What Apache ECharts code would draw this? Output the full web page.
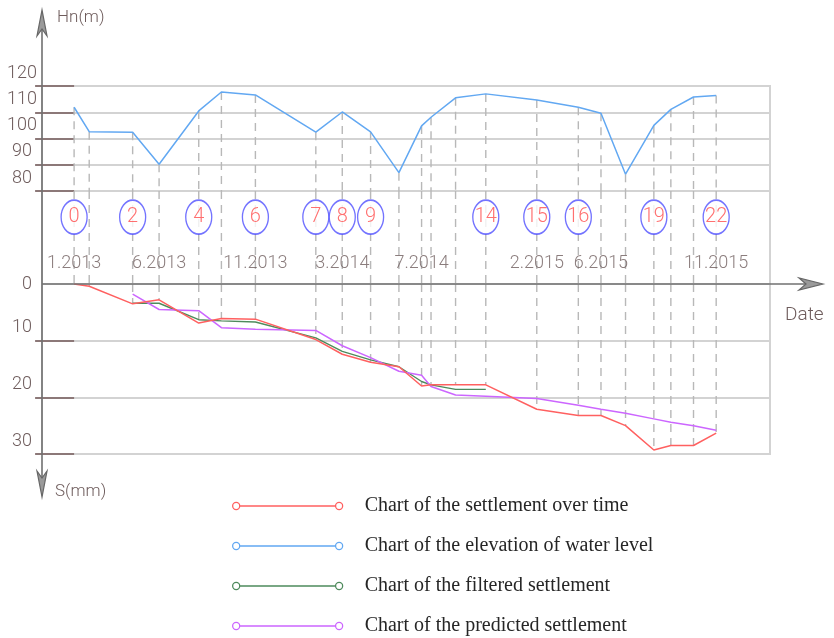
<!DOCTYPE html>
<html>
<head>
<meta charset="utf-8">
<script src="https://cdn.jsdelivr.net/npm/echarts@6/dist/echarts.min.js"></script>
<style>
  html, body { margin: 0; background: #fff; }
  #chart { width: 834px; height: 638px; }
</style>
</head>
<body>
<div id="chart"></div>
<script>
const measureMonth = [0, 0.8, 3.1, 4.5, 6.6, 7.8, 9.6, 12.8, 14.2, 15.7, 17.2, 18.4,
  18.9, 20.2, 21.8, 24.5, 26.7, 27.9, 29.2, 30.7, 31.6, 32.8, 34.0];
// Hn (m)
const waterLevel = [111.9, 102.6, 102.4, 90.2, 110.5, 117.7, 116.6, 102.4, 110.1, 102.5, 87.0, 104.8,
  108.1, 115.5, 117.0, 114.7, 111.9, 109.6, 86.4, 105.0, 111.1, 115.8, 116.4];
// S (mm)
const settlement = [0, 0.4, 3.5, 2.8, 6.9, 6.1, 6.2, 9.8, 12.4, 13.8, 14.6, 18.0,
  17.8, 17.8, 17.8, 22.1, 23.2, 23.2, 25.0, 29.3, 28.5, 28.5, 26.3];
const filteredSettlement = [null, null, 3.4, 3.4, 6.3, 6.5, 6.7, 9.5, 11.9, 13.4, 14.6, 17.2,
  17.8, 18.6, 18.6, null, null, null, null, null, null, null, null];
const predictedSettlement = [null, null, 1.8, 4.5, 4.7, 7.7, 8.0, 8.2, 10.9, 13.0, 15.4, 16.1,
  18.1, 19.6, 19.8, 20.2, 21.4, 22.1, 22.8, 23.8, 24.4, 25.0, 25.8];

const circledPoints = [0, 2, 4, 6, 7, 8, 9, 14, 15, 16, 19, 22];
const dateLabelPoints = [0, 3, 6, 8, 11, 15, 17, 22];
const dateLabels = ['1.2013', '6.2013', '11.2013', '3.2014', '7.2014', '2.2015', '6.2015', '11.2015'];
const levelTicks = [80, 90, 100, 110, 120];
const settlementTicks = [0, 10, 20, 30];

const seriesNames = [
  'Chart of the settlement over time',
  'Chart of the elevation of water level',
  'Chart of the filtered settlement',
  'Chart of the predicted settlement'
];
const seriesColors = ['#ff6060', '#62a8f2', '#4e8a5c', '#cc66ff'];

// layout
const AXIS_X = 42;
const X_MIN = -1.7, X_MAX = 36.85;
const CIRCLE_ROW = 0.72, DATE_ROW = 0.22;
const CAD_FONT = "Roboto, 'Liberation Sans', sans-serif";
const TEXT_GREY = '#6e5c5c';
const GRID_GREY = '#d3d3d3';
const AXIS_GREY = '#707070';

const pts = ys => measureMonth.map((x, i) => [x, ys[i]]).filter(p => p[1] != null);

const dash = { stroke: '#b8b8b8', lineWidth: 1.4, lineDash: [8, 6] };

const xAxisBase = { type: 'value', min: X_MIN, max: X_MAX, show: false };
const yLabel = {
  fontFamily: CAD_FONT, fontSize: 18, fontWeight: 300, color: TEXT_GREY, align: 'center', margin: 20,
  formatter: v => v === 0 ? '{z|0}' : '{n|' + v + '}',
  rich: { n: { padding: [0, 0, 26, 0] }, z: { padding: [0, 0, 0, 10] } }
};
const yTick = { show: true, length: 39, lineStyle: { color: '#8c7878', width: 2 } };

const chart = echarts.init(document.getElementById('chart'));
chart.setOption({
  backgroundColor: '#fff',
  animation: false,
  grid: [
    { left: AXIS_X, width: 728, top: 86, height: 105, show: true, borderColor: GRID_GREY, borderWidth: 2 },
    { left: AXIS_X, width: 728, top: 191, height: 93, show: true, borderColor: GRID_GREY, borderWidth: 2 },
    { left: AXIS_X, width: 728, top: 284, height: 170, show: true, borderColor: GRID_GREY, borderWidth: 2 }
  ],
  xAxis: [
    Object.assign({ gridIndex: 0 }, xAxisBase),
    Object.assign({ gridIndex: 1 }, xAxisBase),
    Object.assign({ gridIndex: 2 }, xAxisBase)
  ],
  yAxis: [
    {
      gridIndex: 0, type: 'value', min: levelTicks[0], max: levelTicks[levelTicks.length - 1], interval: 10,
      axisLine: { show: false }, axisTick: yTick, axisLabel: yLabel,
      splitLine: { lineStyle: { color: GRID_GREY, width: 2 } }
    },
    { gridIndex: 1, type: 'value', min: 0, max: 1, show: false },
    {
      gridIndex: 2, type: 'value', inverse: true, min: 0, max: 30, interval: 10,
      axisLine: { show: false },
      axisTick: Object.assign({ customValues: settlementTicks.slice(1) }, yTick),
      axisLabel: Object.assign({ customValues: settlementTicks }, yLabel),
      splitLine: { lineStyle: { color: GRID_GREY, width: 2 } }
    }
  ],
  legend: {
    orient: 'vertical', left: 232, top: 496, padding: 0,
    itemWidth: 110, itemHeight: 10, itemGap: 20, selectedMode: false,
    icon: 'path://M4,5 m-3.5,0 a3.5,3.5 0 1,0 7,0 a3.5,3.5 0 1,0 -7,0 M7.5,5 L102.5,5 M102.5,5 a3.5,3.5 0 1,0 7,0 a3.5,3.5 0 1,0 -7,0',
    textStyle: { fontFamily: "'Liberation Serif', serif", fontSize: 20, color: '#262626', lineHeight: 20, padding: [0, 0, 0, 17] },
    data: seriesNames.map((n, i) => ({
      name: n, itemStyle: { color: 'transparent', borderColor: seriesColors[i], borderWidth: 1.3 }
    }))
  },
  series: [
    // dashed drop lines: water level point -> band -> settlement point
    {
      type: 'custom', xAxisIndex: 0, yAxisIndex: 0, silent: true, z: 1,
      data: pts(waterLevel),
      renderItem: (params, api) => {
        const p = api.coord([api.value(0), api.value(1)]);
        const cs = params.coordSys;
        return { type: 'line', shape: { x1: p[0], y1: p[1], x2: p[0], y2: cs.y + cs.height }, style: dash };
      }
    },
    {
      type: 'custom', xAxisIndex: 1, yAxisIndex: 1, silent: true, z: 1,
      data: pts(waterLevel),
      renderItem: (params, api) => {
        const p = api.coord([api.value(0), 0]);
        const cs = params.coordSys;
        return { type: 'line', shape: { x1: p[0], y1: cs.y, x2: p[0], y2: cs.y + cs.height }, style: dash };
      }
    },
    {
      type: 'custom', xAxisIndex: 2, yAxisIndex: 2, silent: true, z: 1,
      data: pts(settlement),
      renderItem: (params, api) => {
        const p = api.coord([api.value(0), api.value(1)]);
        const cs = params.coordSys;
        return { type: 'line', shape: { x1: p[0], y1: cs.y, x2: p[0], y2: p[1] }, style: dash };
      }
    },
    {
      name: seriesNames[1], type: 'line', xAxisIndex: 0, yAxisIndex: 0, showSymbol: false,
      data: pts(waterLevel), color: seriesColors[1], lineStyle: { width: 1.5 }
    },
    {
      name: seriesNames[2], type: 'line', xAxisIndex: 2, yAxisIndex: 2, showSymbol: false,
      data: pts(filteredSettlement), color: seriesColors[2], lineStyle: { width: 1.4 }
    },
    {
      name: seriesNames[3], type: 'line', xAxisIndex: 2, yAxisIndex: 2, showSymbol: false,
      data: pts(predictedSettlement), color: seriesColors[3], lineStyle: { width: 1.5 }
    },
    {
      name: seriesNames[0], type: 'line', xAxisIndex: 2, yAxisIndex: 2, showSymbol: false, z: 3,
      data: pts(settlement), color: seriesColors[0], lineStyle: { width: 1.5 }
    },
    // numbered measurement circles
    {
      type: 'scatter', xAxisIndex: 1, yAxisIndex: 1, silent: true, z: 4,
      symbol: 'path://M0,50 A50,50 0 1,1 100,50 A50,50 0 1,1 0,50 Z',
      symbolSize: [26, 34],
      itemStyle: { color: '#fff', borderColor: '#5050ff', borderWidth: 1.5 },
      label: {
        show: true, position: 'inside', formatter: '{b}',
        fontFamily: CAD_FONT, fontSize: 20, fontWeight: 300, color: '#ff4c4c'
      },
      data: circledPoints.map(i => ({ name: String(i), value: [measureMonth[i], CIRCLE_ROW] }))
    },
    // date labels
    {
      type: 'scatter', xAxisIndex: 1, yAxisIndex: 1, silent: true, z: 4,
      symbolSize: 0,
      label: {
        show: true, position: 'inside', formatter: '{b}',
        fontFamily: CAD_FONT, fontSize: 18, fontWeight: 300, color: TEXT_GREY
      },
      data: dateLabelPoints.map((i, k) => ({ name: dateLabels[k], value: [measureMonth[i], DATE_ROW] }))
    }
  ],
  graphic: [
    // axis lines with CAD style arrows
    { type: 'line', z: 100, shape: { x1: AXIS_X, y1: 12, x2: AXIS_X, y2: 495 }, style: { stroke: AXIS_GREY, lineWidth: 1.6 } },
    { type: 'line', z: 100, shape: { x1: AXIS_X, y1: 284, x2: 820, y2: 284 }, style: { stroke: AXIS_GREY, lineWidth: 1.6 } },
    { type: 'polygon', z: 100, shape: { points: [[AXIS_X, 10], [37, 36], [AXIS_X, 29], [47, 36]] }, style: { fill: '#9a9a9a', stroke: '#666', lineWidth: 1.2 } },
    { type: 'polygon', z: 100, shape: { points: [[AXIS_X, 497], [37, 471], [AXIS_X, 478], [47, 471]] }, style: { fill: '#9a9a9a', stroke: '#666', lineWidth: 1.2 } },
    { type: 'polygon', z: 100, shape: { points: [[823, 284], [799, 278], [806, 284], [799, 290]] }, style: { fill: '#9a9a9a', stroke: '#666', lineWidth: 1.2 } },
    { type: 'text', z: 100, x: 57, y: 18, style: { text: 'Hn(m)', fontFamily: CAD_FONT, fontSize: 17, fontWeight: 300, fill: TEXT_GREY, verticalAlign: 'middle' } },
    { type: 'text', z: 100, x: 55, y: 492, style: { text: 'S(mm)', fontFamily: CAD_FONT, fontSize: 17, fontWeight: 300, fill: TEXT_GREY, verticalAlign: 'middle' } },
    { type: 'text', z: 100, x: 785, y: 315, style: { text: 'Date', fontFamily: CAD_FONT, fontSize: 19, fontWeight: 300, fill: TEXT_GREY, verticalAlign: 'middle' } }
  ]
});
</script>
</body>
</html>
